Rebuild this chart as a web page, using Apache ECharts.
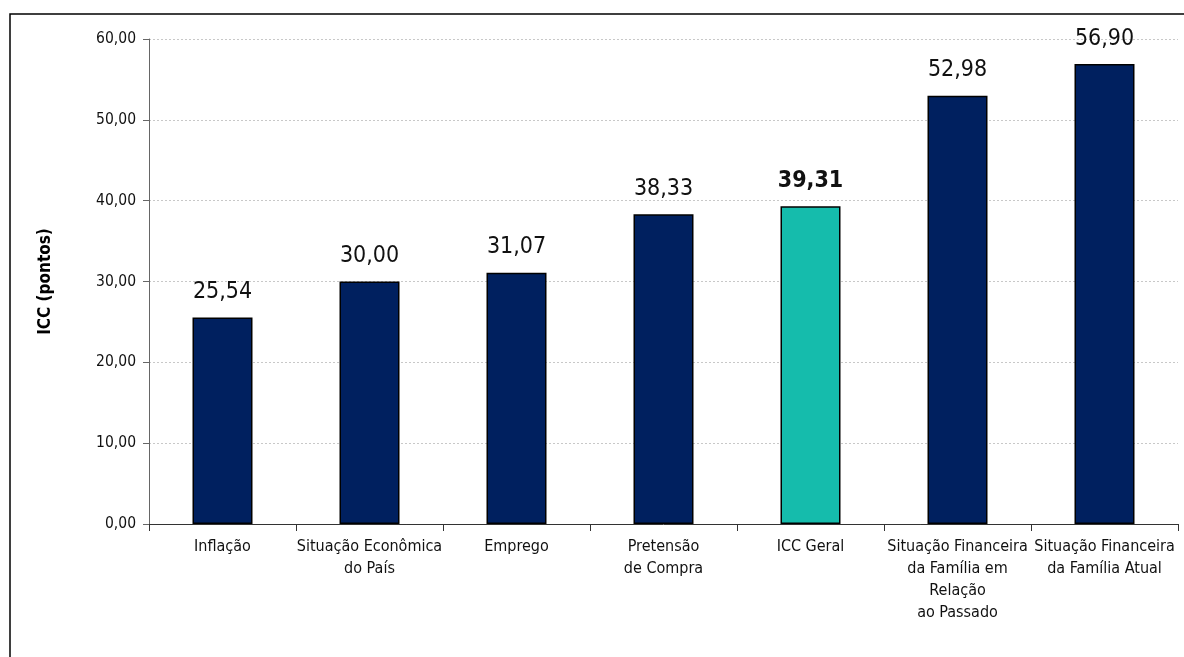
<!DOCTYPE html>
<html><head><meta charset="utf-8">
<script src="https://cdn.jsdelivr.net/npm/echarts@6/dist/echarts.min.js"></script>
<style>html,body{margin:0;padding:0;background:#fff}#c{width:1184px;height:657px}</style>
</head><body><div id="c"></div>
<script>
const categories = ["Inflação","Situação Econômica\ndo País","Emprego","Pretensão\nde Compra","ICC Geral","Situação Financeira\nda Família em\nRelação\nao Passado","Situação Financeira\nda Família Atual"];
const values = [25.54, 30.00, 31.07, 38.33, 39.31, 52.98, 56.90];
const highlightIndex = 4;
const yTicks = {min: 0, max: 60, interval: 10};
const FONT = "Tahoma, 'DejaVu Sans Condensed', 'DejaVu Sans', sans-serif";
const fmt = v => Number(v).toFixed(2).replace('.', ',');
const chart = echarts.init(document.getElementById('c'));
chart.setOption({
  animation: false,
  graphic: [{type:'rect', shape:{x:10, y:14, width:1300, height:800}, style:{fill:'none', stroke:'#000', lineWidth:1.5}, silent:true}],
  grid: {left:149, top:39, right:6, bottom:133},
  xAxis: {
    type:'category', data: categories,
    axisLine:{lineStyle:{color:'#333', width:1}},
    axisTick:{show:true, alignWithLabel:false, length:7, lineStyle:{color:'#333'}},
    axisLabel:{color:'#111', fontFamily:FONT, fontSize:16, lineHeight:22, margin:12, interval:0}
  },
  yAxis: {
    type:'value', min:yTicks.min, max:yTicks.max, interval:yTicks.interval,
    name:'ICC (pontos)', nameLocation:'middle', nameGap:95,
    nameTextStyle:{fontFamily:FONT, fontSize:17, fontWeight:'bold', color:'#000'},
    axisLine:{show:true, lineStyle:{color:'#666'}},
    axisTick:{show:true, length:6, lineStyle:{color:'#666'}},
    axisLabel:{formatter: fmt, color:'#111', fontFamily:FONT, fontSize:15.5, margin:13},
    splitLine:{lineStyle:{color:'#c8c8c8', type:[2,2], width:1}}
  },
  series: [{
    type:'bar', barWidth:60,
    data: values.map((v,i)=>({
      value:v,
      itemStyle:{color: i===highlightIndex ? '#15BCAC' : '#00205F'},
      label:{fontWeight: i===highlightIndex ? 'bold' : 'normal'}
    })),
    itemStyle:{borderColor:'#000', borderWidth:1.5},
    label:{show:true, position:'top', distance:14, formatter: p=>fmt(p.value), fontFamily:FONT, fontSize:23, color:'#111'}
  }]
});
</script></body></html>
